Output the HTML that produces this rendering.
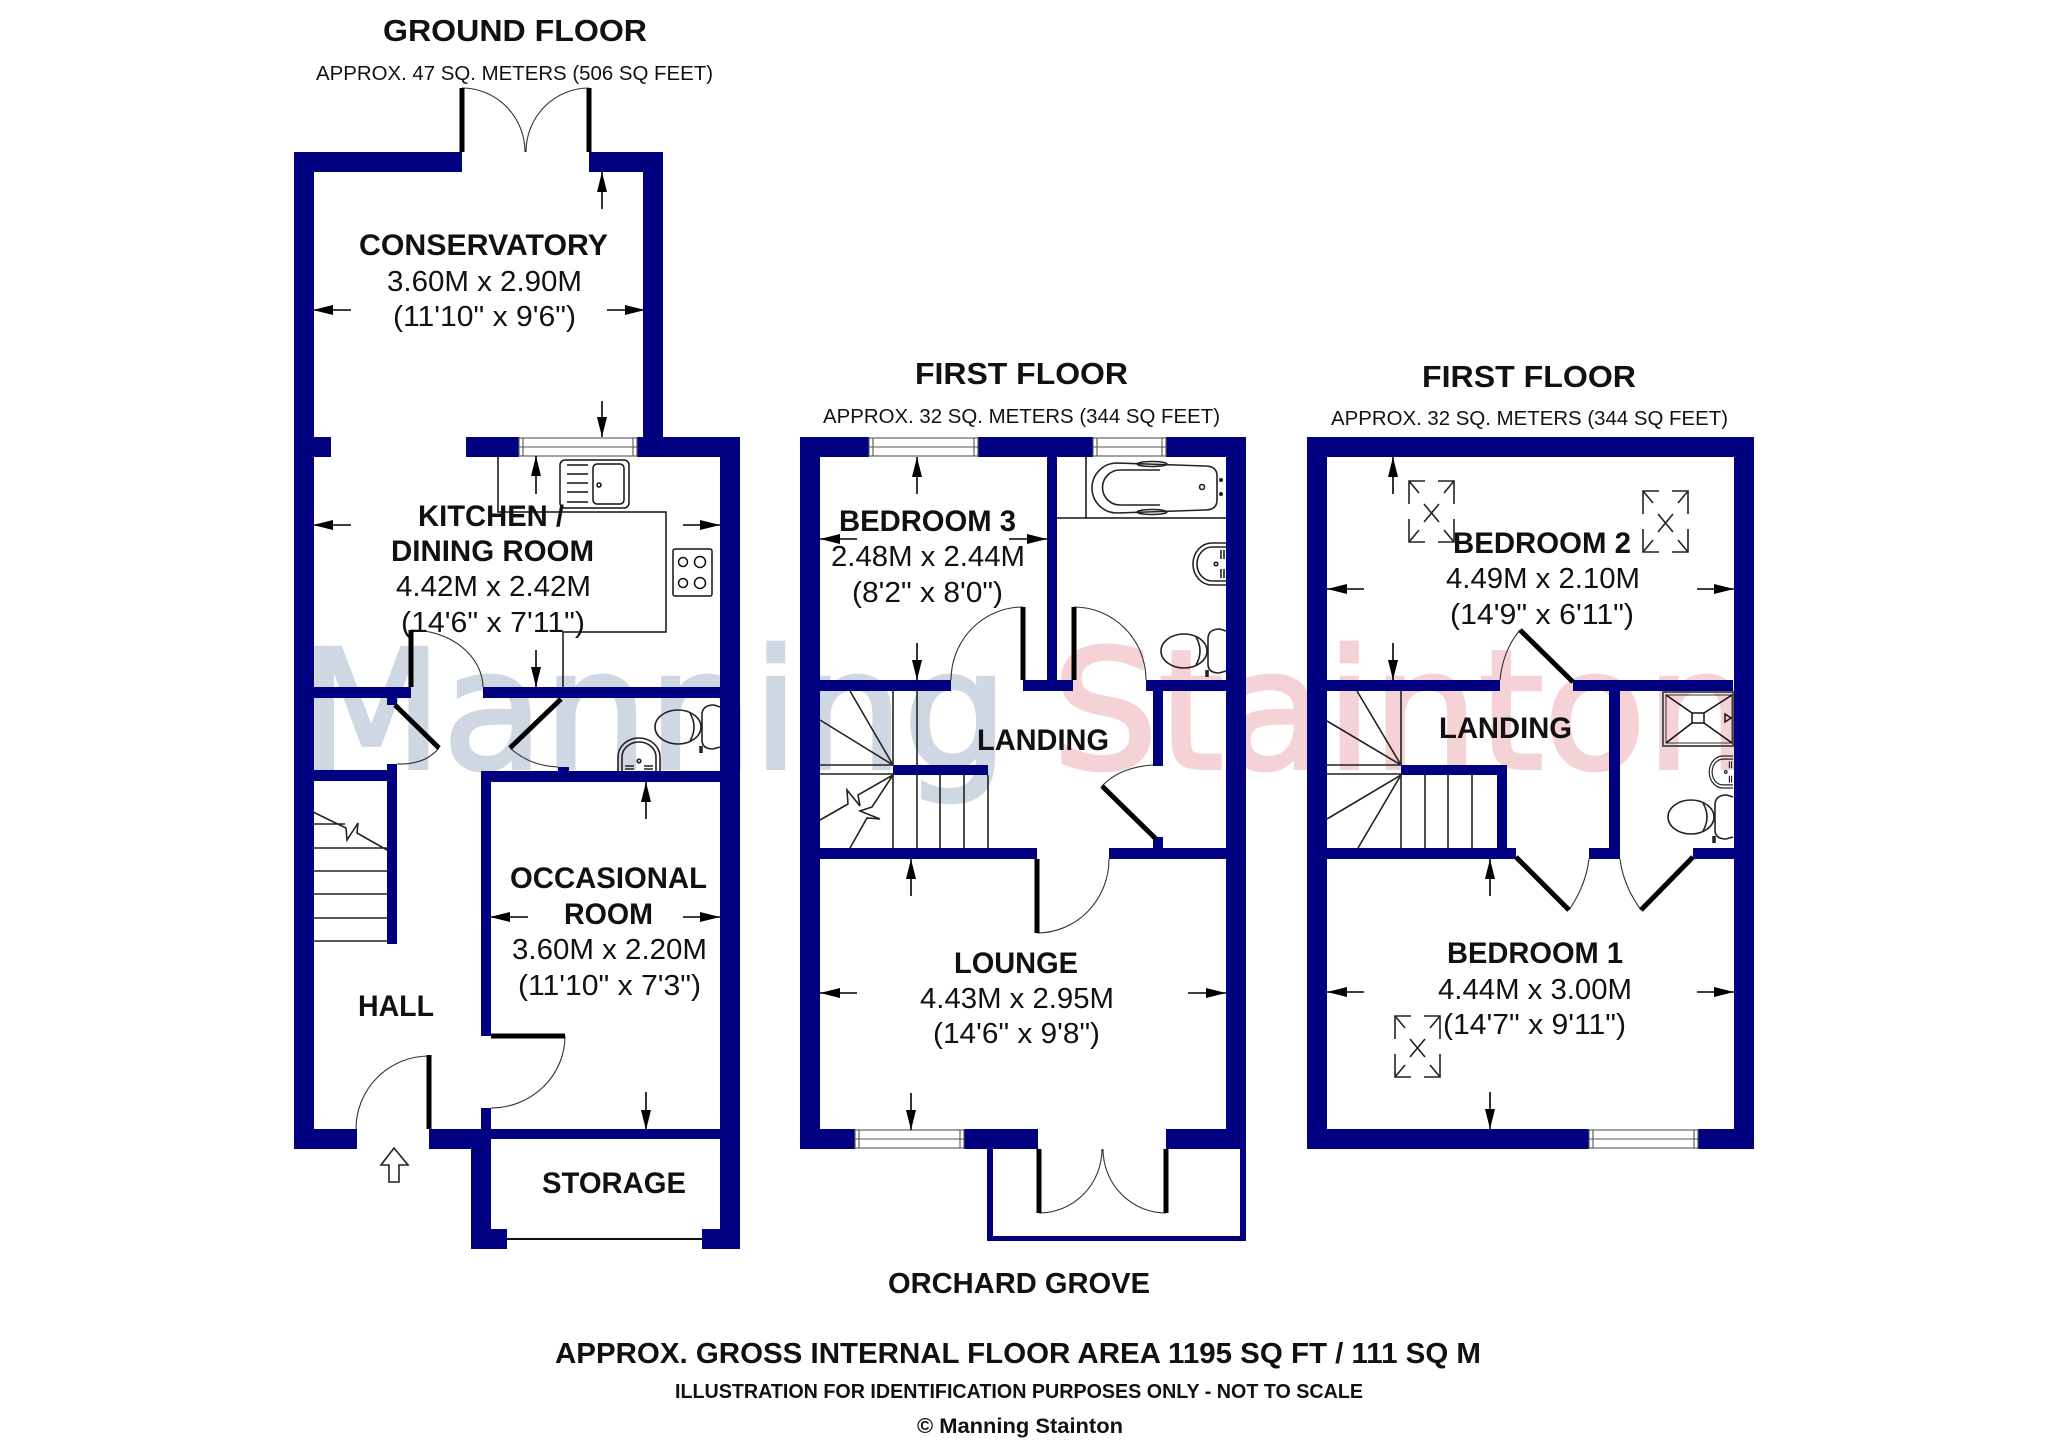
<!DOCTYPE html>
<html><head><meta charset="utf-8"><title>Floor plan</title>
<style>
html,body{margin:0;padding:0;background:#fff}
svg{display:block}
text{font-family:"Liberation Sans",Arial,sans-serif;fill:#111}
.b{font-weight:bold;font-size:30px}
.r{font-size:29px}
.s{font-size:20.5px}
.w{fill:#000080}
.d{fill:none;stroke:#000;stroke-width:5}
.t{fill:none;stroke:#222;stroke-width:1.6}
.a{fill:none;stroke:#333;stroke-width:1.1}
.ar{fill:none;stroke:#000;stroke-width:1.6}
.l{fill:none;stroke:#111;stroke-width:1.5}
.f{fill:none;stroke:#222;stroke-width:1.6}
.win{fill:#fff;stroke:#555;stroke-width:1.1}
</style></head><body>
<svg xmlns="http://www.w3.org/2000/svg" width="2048" height="1454" viewBox="0 0 2048 1454">
<defs>
<marker id="h" markerUnits="userSpaceOnUse" markerWidth="22" markerHeight="12" refX="20" refY="5" orient="auto"><path d="M0,0 L20,5 L0,10 Z" fill="#000"/></marker>
<g id="toilet" class="f"><ellipse cx="-42" cy="0" rx="23" ry="17"/><path d="M-30,-14 Q-22,0 -30,14"/><path d="M0,-20 L-6,-22 Q-18,-22 -18,-12 L-18,13 Q-18,22 -7,22 L0,20"/><path d="M-19,19 L-19,26" stroke-width="3.5"/></g>
<g id="basin" class="f"><path d="M0,-21 L-14,-21 A19,21 0 0 0 -14,21 L0,21"/><path d="M0,-17 L-14,-17 A15,17 0 0 0 -14,17 L0,17"/><circle cx="-10" cy="0" r="1.8"/><path d="M-5,-14 V-5 M-5,5 V14 M-2,-14 V-5 M-2,5 V14"/></g>
<g id="sky" class="f" stroke-width="1.4"><path d="M16,0 H0 V23 M0,0 L10,12 M29,0 H45 V23 M45,0 L35,12 M0,38 V61 H16 M0,61 L10,49 M45,38 V61 H29 M45,61 L35,49 M15,23 L30,41 M30,23 L15,41"/></g>
</defs>
<rect width="2048" height="1454" fill="#fff"/>

<!-- watermark -->
<text x="300" y="768" font-size="165" textLength="708" lengthAdjust="spacingAndGlyphs" style="font-family:'DejaVu Sans',sans-serif;fill:#cfd7e3;stroke:#cfd7e3;stroke-width:4">Manning</text>
<text x="1052" y="768" font-size="165" textLength="700" lengthAdjust="spacingAndGlyphs" style="font-family:'DejaVu Sans',sans-serif;fill:#f4d2d6;stroke:#f4d2d6;stroke-width:4">Stainton</text>

<!-- fixture lines, ground -->
<path class="l" d="M498,457 V512 H666 V632 H563 V687"/>
<g class="l"><rect x="560" y="460" width="69" height="48" rx="5"/><rect x="593" y="464" width="31" height="40" rx="4"/><path d="M567,465 H588 M567,474 H588 M567,483 H588 M567,492 H588 M567,502 H588"/><circle cx="599" cy="485" r="2"/></g>
<g class="l"><rect x="673" y="549" width="39" height="47" rx="2"/><circle cx="683" cy="562" r="4.5"/><circle cx="700" cy="562" r="5.5"/><circle cx="683" cy="583" r="4.5"/><circle cx="700" cy="583" r="5.5"/></g>
<use href="#toilet" x="720" y="727"/>
<use href="#basin" transform="translate(639,771) rotate(90)"/>
<path class="t" d="M313,824 H345 M313,848 H387 M313,871 H387 M313,894 H387 M313,918 H387 M313,941 H387 M387,850 L357,833 L358,823 L347,840 L346,828 L313,812"/>
<path class="t" d="M381,1165 L394,1148 L408,1165 L399,1165 L399,1182 L389,1182 L389,1165 Z"/>

<!-- fixture lines, first floor 1 -->
<path class="l" d="M1086,457 V518 M1057,518 H1226"/>
<g class="f"><path d="M1117,463 L1205,466 Q1217,466 1217,476 L1217,500 Q1217,510 1205,510 L1117,513 A25,25 0 0 1 1117,463"/><path d="M1160,470 L1120,470 A17.5,17.5 0 0 0 1120,505 L1160,505"/><ellipse cx="1152" cy="464" rx="15" ry="2.5"/><ellipse cx="1152" cy="512" rx="15" ry="2.5"/><circle cx="1202" cy="487" r="2.5"/></g>
<circle cx="1221" cy="480" r="2" fill="#222"/><circle cx="1221" cy="494" r="2" fill="#222"/>
<use href="#basin" x="1226" y="564"/>
<use href="#toilet" x="1226" y="651"/>
<path class="t" d="M893,691 V765 M917,691 V848 M893,775 V848 M940,775 V848 M964,775 V848 M988,775 V848 M820,765 H893 M820,774 H893 M893,765 L820,720 M893,765 L850,691 M893,775 L858,795 L860,806 L847,790 L848,804 L820,820 M850,848 L867,818 L880,819 L860,811 L872,807 L893,775"/>

<!-- fixture lines, first floor 2 -->
<use href="#sky" x="1409" y="481"/><use href="#sky" x="1643" y="491"/><use href="#sky" x="1395" y="1016"/>
<path class="t" d="M1401,691 V765 M1401,775 V848 M1425,775 V848 M1448,775 V848 M1472,775 V848 M1327,765 H1401 M1327,774 H1401 M1401,765 L1327,721 M1401,765 L1357,691 M1401,775 L1327,819 M1401,775 L1358,848"/>
<g><rect x="1663" y="692" width="70" height="54" fill="none" stroke="#555" stroke-width="2"/><rect x="1666" y="695" width="66" height="48" fill="none" stroke="#333" stroke-width="1"/><rect x="1692" y="713" width="12" height="10" class="l"/><path class="l" d="M1666,695 L1692,713 M1732,695 L1704,713 M1666,743 L1692,723 M1732,743 L1704,723 M1725,714 L1731,718 L1725,722 Z"/></g>
<use href="#basin" transform="translate(1733,772) scale(.72,.76)"/>
<use href="#toilet" x="1733" y="817"/>

<!-- door arcs -->
<path class="a" d="M462,88 A63,64 0 0 1 525,152 M589,88 A63,64 0 0 0 526,152 M411,630 A72,58 0 0 1 483,687 M439,748 Q425,765 397,764 M510,748 Q530,766 558,767 M429,1056 A73,73 0 0 0 356,1129 M565,1036 A74,72 0 0 1 491,1108 M1023,607 A72,73 0 0 0 951,680 M1074,607 A72,73 0 0 1 1146,680 M1102,786 Q1120,767 1153,765 M1037,933 A72,74 0 0 0 1109,859 M1039,1213 A63,64 0 0 0 1102,1149 M1166,1213 A63,64 0 0 1 1103,1149 M1520,630 Q1503,650 1500,680 M1569,910 Q1586,885 1589,859 M1641,910 Q1623,885 1620,859"/>

<!-- walls, ground -->
<g class="w">
<rect x="294" y="152" width="20" height="997"/><rect x="294" y="152" width="168" height="20"/><rect x="589" y="152" width="74" height="20"/><rect x="643" y="152" width="20" height="305"/>
<rect x="313" y="437" width="18" height="20"/><rect x="466" y="437" width="53" height="20"/><rect x="637" y="437" width="103" height="20"/><rect x="720" y="437" width="20" height="812"/>
<rect x="313" y="687" width="98" height="11"/><rect x="387" y="687" width="10" height="18"/><rect x="483" y="687" width="237" height="11"/>
<rect x="313" y="770" width="84" height="11"/><rect x="387" y="764" width="10" height="180"/>
<rect x="481" y="771" width="239" height="11"/><rect x="558" y="767" width="11" height="5"/>
<rect x="481" y="771" width="10" height="265"/><rect x="481" y="1108" width="10" height="31"/>
<rect x="294" y="1129" width="63" height="20"/><rect x="429" y="1129" width="43" height="20"/><rect x="472" y="1129" width="248" height="10"/>
<rect x="471" y="1129" width="20" height="120"/><rect x="471" y="1229" width="36" height="20"/><rect x="702" y="1229" width="38" height="20"/>
<!-- first floor 1 -->
<rect x="800" y="437" width="20" height="712"/><rect x="800" y="437" width="69" height="20"/><rect x="978" y="437" width="115" height="20"/><rect x="1166" y="437" width="80" height="20"/><rect x="1226" y="437" width="20" height="712"/>
<rect x="1047" y="457" width="10" height="223"/><rect x="820" y="680" width="131" height="11"/><rect x="1023" y="680" width="50" height="11"/><rect x="1146" y="680" width="80" height="11"/>
<rect x="1153" y="691" width="10" height="75"/><rect x="1153" y="837" width="10" height="11"/><rect x="893" y="765" width="95" height="10"/>
<rect x="820" y="848" width="217" height="11"/><rect x="1109" y="848" width="117" height="11"/>
<rect x="800" y="1129" width="55" height="20"/><rect x="964" y="1129" width="74" height="20"/><rect x="1166" y="1129" width="80" height="20"/>
<rect x="987" y="1149" width="6" height="92"/><rect x="1240" y="1149" width="6" height="92"/><rect x="987" y="1236" width="259" height="5"/>
<!-- first floor 2 -->
<rect x="1307" y="437" width="20" height="712"/><rect x="1307" y="437" width="447" height="20"/><rect x="1734" y="437" width="20" height="712"/>
<rect x="1327" y="680" width="173" height="11"/><rect x="1573" y="680" width="160" height="11"/><rect x="1609" y="691" width="11" height="168"/>
<rect x="1401" y="765" width="106" height="10"/><rect x="1497" y="765" width="10" height="94"/>
<rect x="1327" y="848" width="189" height="11"/><rect x="1589" y="848" width="31" height="11"/><rect x="1693" y="848" width="41" height="11"/>
<rect x="1307" y="1129" width="282" height="20"/><rect x="1698" y="1129" width="56" height="20"/>
</g>

<!-- windows -->
<g class="win">
<rect x="519" y="438" width="118" height="18"/><path d="M519,447 H637 M523,438 V456 M633,438 V456"/>
<rect x="869" y="438" width="109" height="18"/><path d="M869,447 H978 M873,438 V456 M974,438 V456"/>
<rect x="1093" y="438" width="73" height="18"/><path d="M1093,447 H1166 M1097,438 V456 M1162,438 V456"/>
<rect x="855" y="1130" width="109" height="18"/><path d="M855,1139 H964 M859,1130 V1148 M960,1130 V1148"/>
<rect x="1589" y="1130" width="109" height="18"/><path d="M1589,1139 H1698 M1593,1130 V1148 M1694,1130 V1148"/>
</g>
<path d="M507,1239 H702" stroke="#111" stroke-width="2"/>

<!-- door leaves -->
<path class="d" d="M462,88 V152 M589,88 V152 M411,630 V687 M395,705 L439,748 M561,699 L510,748 M429,1055 V1129 M491,1036 H565 M1023,607 V680 M1074,607 V680 M1102,786 L1156,839 M1037,859 V933 M1039,1149 V1213 M1166,1149 V1213 M1520,630 L1573,682 M1516,857 L1569,910 M1693,857 L1641,910"/>

<!-- arrows -->
<g class="ar">
<path d="M602,209 V172" marker-end="url(#h)"/><path d="M602,401 V437" marker-end="url(#h)"/><path d="M351,310 H313" marker-end="url(#h)"/><path d="M607,310 H645" marker-end="url(#h)"/>
<path d="M536,494 V456" marker-end="url(#h)"/><path d="M351,525 H313" marker-end="url(#h)"/><path d="M683,525 H720" marker-end="url(#h)"/><path d="M536,650 V687" marker-end="url(#h)"/>
<path d="M646,819 V782" marker-end="url(#h)"/><path d="M528,917 H490" marker-end="url(#h)"/><path d="M683,917 H720" marker-end="url(#h)"/><path d="M646,1092 V1130" marker-end="url(#h)"/>
<path d="M917,494 V457" marker-end="url(#h)"/><path d="M857,539 H820" marker-end="url(#h)"/><path d="M1009,539 H1047" marker-end="url(#h)"/><path d="M917,643 V680" marker-end="url(#h)"/>
<path d="M911,896 V859" marker-end="url(#h)"/><path d="M857,993 H820" marker-end="url(#h)"/><path d="M1188,993 H1226" marker-end="url(#h)"/><path d="M911,1093 V1130" marker-end="url(#h)"/>
<path d="M1393,494 V457" marker-end="url(#h)"/><path d="M1364,589 H1327" marker-end="url(#h)"/><path d="M1697,589 H1734" marker-end="url(#h)"/><path d="M1393,643 V680" marker-end="url(#h)"/>
<path d="M1490,896 V859" marker-end="url(#h)"/><path d="M1364,992 H1327" marker-end="url(#h)"/><path d="M1697,992 H1734" marker-end="url(#h)"/><path d="M1490,1092 V1129" marker-end="url(#h)"/>
</g>

<!-- text -->
<text class="b" x="383" y="41" textLength="264" lengthAdjust="spacingAndGlyphs" style="font-size:31px">GROUND FLOOR</text>
<text class="s" x="316" y="80" textLength="397" lengthAdjust="spacingAndGlyphs">APPROX. 47 SQ. METERS (506 SQ FEET)</text>
<text class="b" x="359" y="255" textLength="249" lengthAdjust="spacingAndGlyphs">CONSERVATORY</text>
<text class="r" x="387" y="291" textLength="195" lengthAdjust="spacingAndGlyphs">3.60M x 2.90M</text>
<text class="r" x="393" y="326" textLength="183" lengthAdjust="spacingAndGlyphs">(11'10" x 9'6")</text>
<text class="b" x="418" y="526" textLength="146" lengthAdjust="spacingAndGlyphs">KITCHEN /</text>
<text class="b" x="391" y="561" textLength="203" lengthAdjust="spacingAndGlyphs">DINING ROOM</text>
<text class="r" x="396" y="596" textLength="195" lengthAdjust="spacingAndGlyphs">4.42M x 2.42M</text>
<text class="r" x="401" y="632" textLength="184" lengthAdjust="spacingAndGlyphs">(14'6" x 7'11")</text>
<text class="b" x="510" y="888" textLength="197" lengthAdjust="spacingAndGlyphs">OCCASIONAL</text>
<text class="b" x="564" y="924" textLength="89" lengthAdjust="spacingAndGlyphs">ROOM</text>
<text class="r" x="512" y="959" textLength="195" lengthAdjust="spacingAndGlyphs">3.60M x 2.20M</text>
<text class="r" x="518" y="995" textLength="183" lengthAdjust="spacingAndGlyphs">(11'10" x 7'3")</text>
<text class="b" x="358" y="1016" textLength="76" lengthAdjust="spacingAndGlyphs">HALL</text>
<text class="b" x="542" y="1193" textLength="144" lengthAdjust="spacingAndGlyphs">STORAGE</text>

<text class="b" x="915" y="384" textLength="213" lengthAdjust="spacingAndGlyphs" style="font-size:31px">FIRST FLOOR</text>
<text class="s" x="823" y="423" textLength="397" lengthAdjust="spacingAndGlyphs">APPROX. 32 SQ. METERS (344 SQ FEET)</text>
<text class="b" x="839" y="531" textLength="177" lengthAdjust="spacingAndGlyphs">BEDROOM 3</text>
<text class="r" x="831" y="566" textLength="194" lengthAdjust="spacingAndGlyphs">2.48M x 2.44M</text>
<text class="r" x="852" y="602" textLength="151" lengthAdjust="spacingAndGlyphs">(8'2" x 8'0")</text>
<text class="b" x="977" y="750" textLength="132" lengthAdjust="spacingAndGlyphs">LANDING</text>
<text class="b" x="954" y="973" textLength="124" lengthAdjust="spacingAndGlyphs">LOUNGE</text>
<text class="r" x="920" y="1008" textLength="194" lengthAdjust="spacingAndGlyphs">4.43M x 2.95M</text>
<text class="r" x="933" y="1043" textLength="167" lengthAdjust="spacingAndGlyphs">(14'6" x 9'8")</text>

<text class="b" x="1422" y="387" textLength="214" lengthAdjust="spacingAndGlyphs" style="font-size:31px">FIRST FLOOR</text>
<text class="s" x="1331" y="425" textLength="397" lengthAdjust="spacingAndGlyphs">APPROX. 32 SQ. METERS (344 SQ FEET)</text>
<text class="b" x="1453" y="553" textLength="178" lengthAdjust="spacingAndGlyphs">BEDROOM 2</text>
<text class="r" x="1446" y="588" textLength="194" lengthAdjust="spacingAndGlyphs">4.49M x 2.10M</text>
<text class="r" x="1450" y="624" textLength="184" lengthAdjust="spacingAndGlyphs">(14'9" x 6'11")</text>
<text class="b" x="1439" y="738" textLength="133" lengthAdjust="spacingAndGlyphs">LANDING</text>
<text class="b" x="1447" y="963" textLength="176" lengthAdjust="spacingAndGlyphs">BEDROOM 1</text>
<text class="r" x="1438" y="999" textLength="194" lengthAdjust="spacingAndGlyphs">4.44M x 3.00M</text>
<text class="r" x="1443" y="1034" textLength="183" lengthAdjust="spacingAndGlyphs">(14'7" x 9'11")</text>

<text class="b" x="888" y="1293" textLength="262" lengthAdjust="spacingAndGlyphs" style="font-size:29px">ORCHARD GROVE</text>
<text class="b" x="555" y="1363" textLength="926" lengthAdjust="spacingAndGlyphs" style="font-size:29px">APPROX. GROSS INTERNAL FLOOR AREA 1195 SQ FT / 111 SQ M</text>
<text class="b" x="675" y="1398" textLength="688" lengthAdjust="spacingAndGlyphs" style="font-size:20px">ILLUSTRATION FOR IDENTIFICATION PURPOSES ONLY - NOT TO SCALE</text>
<text class="b" x="917" y="1433" textLength="206" lengthAdjust="spacingAndGlyphs" style="font-size:21px">© Manning Stainton</text>
</svg>
</body></html>
